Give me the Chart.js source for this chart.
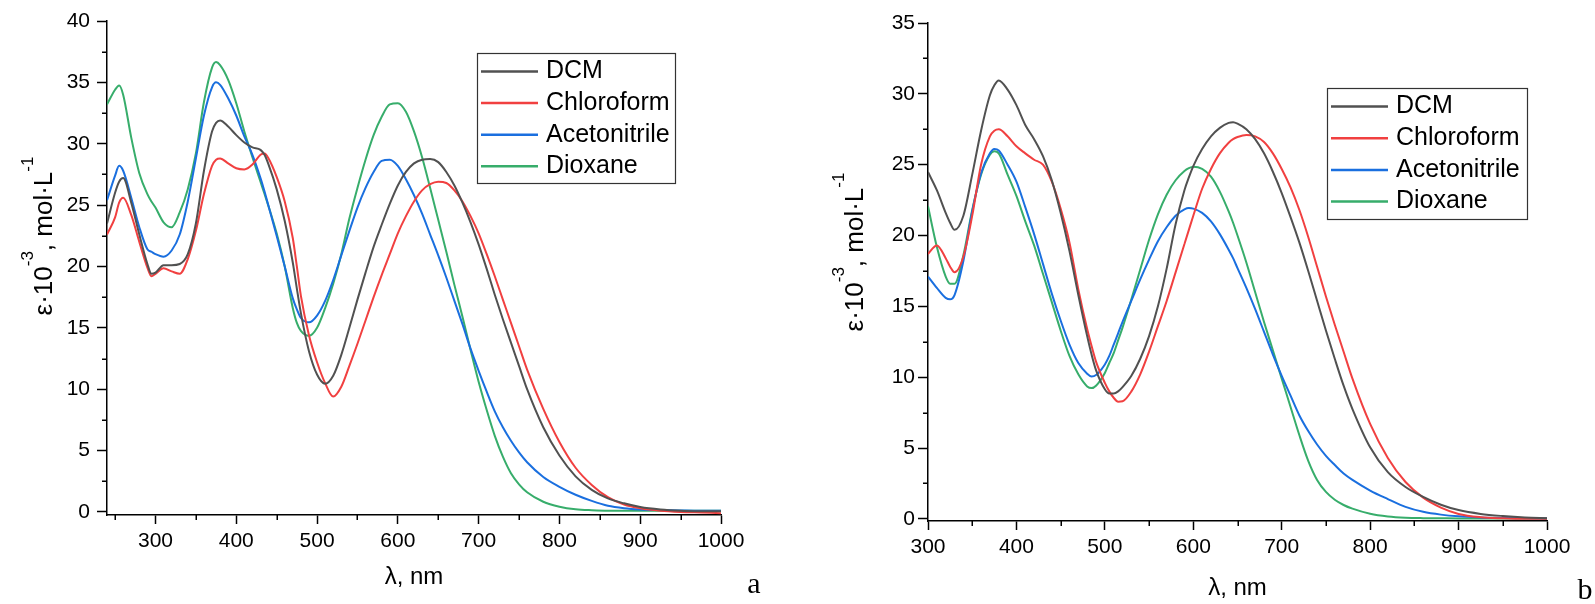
<!DOCTYPE html>
<html>
<head>
<meta charset="utf-8">
<script src="https://cdn.jsdelivr.net/npm/chart.js@4.4.0/dist/chart.umd.min.js"></script>
<style>
  html, body { margin: 0; padding: 0; background: #fff; }
  body { width: 1595px; height: 604px; position: relative; overflow: hidden; }
  canvas { position: absolute; top: 0; }
  #chartA { left: 0; }
  #chartB { left: 800px; }
</style>
</head>
<body>
<canvas id="chartA" width="800" height="604"></canvas>
<canvas id="chartB" width="795" height="604"></canvas>
<script>
// Solvents + Origin default colours
const solvents = ['DCM', 'Chloroform', 'Acetonitrile', 'Dioxane'];
const colors = ['#515151', '#F14040', '#1A6FDF', '#37AD6B'];

// ---- panel a : wavelength (nm) and eps*10^-3 ----
const lambdaA = [240, 250, 255, 260, 270, 280, 290, 295, 300, 310, 320, 330, 340, 350, 360, 370, 375, 380, 390, 400,
  410, 420, 430, 435, 440, 450, 460, 470, 475, 480, 490, 500, 510, 520, 530, 540, 550, 560, 570, 580,
  590, 600, 610, 620, 630, 640, 650, 660, 670, 680, 690, 700, 710, 720, 730, 740, 750, 760, 780, 800,
  820, 840, 860, 880, 900, 925, 950, 975, 1000];
const dcmA = [23.5, 26.0, 26.9, 27.2, 25.2, 22.6, 20.2, 19.4, 19.5, 20.1, 20.1, 20.2, 21.0, 23.5, 27.8, 31.0, 31.7, 31.9, 31.4, 30.7,
  30.1, 29.7, 29.5, 29.1, 28.3, 26.3, 23.7, 20.3, 18.2, 16.2, 13.1, 11.2, 10.45, 11.1, 12.8, 15.0, 17.3, 19.5, 21.6, 23.4,
  25.1, 26.6, 27.7, 28.4, 28.7, 28.75, 28.5, 27.7, 26.6, 25.2, 23.6, 21.8, 19.8, 17.7, 15.7, 13.8, 11.9, 10.0, 6.9, 4.6,
  2.9, 1.8, 1.1, 0.7, 0.4, 0.2, 0.1, 0.06, 0.05];
const chloroformA = [22.6, 24.0, 25.2, 25.6, 24.2, 22.0, 19.9, 19.2, 19.4, 19.85, 19.6, 19.4, 20.6, 22.9, 25.9, 28.2, 28.7, 28.8, 28.4, 28.0,
  27.9, 28.3, 29.1, 29.2, 28.8, 27.3, 25.3, 22.3, 20.0, 17.6, 14.4, 12.2, 10.5, 9.4, 10.2, 11.9, 13.7, 15.6, 17.5, 19.3,
  21.0, 22.7, 24.1, 25.3, 26.2, 26.7, 26.9, 26.8, 26.2, 25.3, 24.1, 22.7, 21.0, 19.2, 17.3, 15.4, 13.5, 11.6, 8.4, 5.7,
  3.6, 2.2, 1.2, 0.6, 0.3, 0.1, 0.0, -0.05, -0.1];
const acetonitrileA = [25.4, 27.4, 28.2, 27.8, 25.6, 23.2, 21.4, 21.2, 21.0, 20.8, 21.3, 22.6, 25.3, 28.8, 32.3, 34.6, 35.0, 34.8, 33.7, 32.3,
  30.6, 29.1, 27.2, 26.1, 24.9, 22.5, 20.0, 17.4, 16.5, 15.8, 15.45, 16.0, 17.2, 18.9, 20.9, 22.9, 24.8, 26.4, 27.7, 28.6,
  28.7, 28.2, 27.1, 25.8, 24.3, 22.6, 20.9, 19.1, 17.2, 15.3, 13.3, 11.5, 9.8, 8.2, 6.9, 5.8, 4.85, 4.05, 2.85, 2.05,
  1.4, 0.9, 0.5, 0.3, 0.2, 0.15, 0.12, 0.1, 0.1];
const dioxaneA = [33.2, 34.4, 34.75, 34.0, 30.5, 27.6, 25.9, 25.3, 24.8, 23.6, 23.2, 24.4, 26.3, 29.2, 33.4, 36.2, 36.65, 36.4, 35.2, 33.3,
  31.0, 28.9, 26.9, 25.9, 24.9, 22.7, 20.0, 16.6, 15.4, 14.75, 14.35, 15.0, 16.6, 18.6, 21.0, 23.9, 26.4, 28.7, 30.7, 32.2,
  33.2, 33.3, 32.6, 31.0, 28.9, 26.4, 23.8, 21.2, 18.5, 15.9, 13.2, 10.6, 8.3, 6.2, 4.5, 3.15, 2.25, 1.6, 0.83, 0.43,
  0.22, 0.14, 0.1, 0.1, 0.1, 0.1, 0.1, 0.1, 0.1];

// ---- panel b ----
const lambdaB = [300, 310, 320, 325, 330, 340, 350, 360, 370, 375, 380, 390, 400, 410, 420, 430, 440, 450, 460, 470,
  480, 485, 490, 500, 505, 510, 515, 520, 530, 540, 550, 560, 570, 580, 590, 595, 600, 610, 620, 630,
  640, 645, 650, 660, 670, 680, 690, 700, 710, 720, 730, 740, 750, 760, 770, 780, 800, 820, 840, 860,
  880, 900, 925, 950, 975, 1000];
const dcmB = [24.48, 23.2, 21.6, 20.9, 20.4, 21.4, 24.3, 27.4, 29.9, 30.6, 30.95, 30.3, 29.2, 27.8, 26.8, 25.6, 23.9, 21.6, 18.9, 15.8,
  12.9, 11.6, 10.5, 9.15, 8.85, 8.85, 9.0, 9.3, 10.1, 11.3, 12.9, 15.0, 17.7, 20.8, 23.2, 24.1, 24.9, 26.1, 27.0, 27.6,
  27.95, 28.0, 27.9, 27.5, 26.8, 25.8, 24.5, 23.0, 21.3, 19.5, 17.5, 15.4, 13.3, 11.3, 9.4, 7.75, 5.05, 3.3, 2.25, 1.55,
  1.0, 0.62, 0.35, 0.2, 0.1, 0.05];
const chloroformB = [18.7, 19.3, 18.4, 17.8, 17.4, 18.5, 21.4, 25.0, 27.0, 27.4, 27.5, 27.0, 26.3, 25.8, 25.35, 25.0, 23.8, 21.9, 19.5, 16.2,
  13.4, 12.2, 11.1, 9.6, 9.0, 8.55, 8.27, 8.3, 9.0, 10.2, 11.8, 13.6, 15.4, 17.4, 19.4, 20.4, 21.4, 23.3, 24.7, 25.8,
  26.55, 26.8, 26.95, 27.1, 27.0, 26.6, 25.8, 24.7, 23.4, 21.8, 19.9, 17.8, 15.7, 13.7, 11.8, 9.9, 6.7, 4.3, 2.6, 1.5,
  0.8, 0.35, 0.12, 0.04, 0.0, 0.0];
const acetonitrileB = [17.1, 16.3, 15.6, 15.5, 15.8, 18.2, 21.7, 24.4, 25.8, 26.1, 26.0, 25.0, 23.8, 22.0, 20.1, 18.0, 15.9, 14.0, 12.3, 11.0,
  10.25, 10.05, 10.15, 10.9, 11.5, 12.3, 13.1, 13.9, 15.4, 16.9, 18.3, 19.6, 20.6, 21.4, 21.85, 21.94, 21.9, 21.6, 21.0, 20.1,
  19.0, 18.4, 17.7, 16.3, 14.8, 13.2, 11.6, 10.1, 8.7, 7.3, 6.2, 5.25, 4.45, 3.8, 3.2, 2.75, 2.0, 1.4, 0.85, 0.5,
  0.3, 0.18, 0.1, 0.06, 0.04, 0.03];
const dioxaneB = [22.06, 19.2, 17.1, 16.6, 16.6, 18.6, 21.8, 24.3, 25.7, 25.94, 25.8, 24.3, 22.8, 21.0, 19.3, 17.3, 15.3, 13.3, 11.5, 10.2,
  9.35, 9.23, 9.4, 10.3, 11.0, 11.7, 12.6, 13.5, 15.5, 17.6, 19.7, 21.5, 22.9, 23.9, 24.55, 24.75, 24.85, 24.7, 24.15, 23.1,
  21.7, 20.9, 20.0, 18.1, 16.0, 13.9, 11.9, 9.9, 7.9, 5.9, 4.1, 2.75, 1.9, 1.35, 0.98, 0.72, 0.36, 0.17, 0.08, 0.05,
  0.04, 0.03, 0.03, 0.03, 0.03, 0.03];

const FONT = '"Liberation Sans", Arial, sans-serif';
Chart.defaults.font.family = FONT;
Chart.defaults.color = '#000';

// minor ticks, legend box, y title with superscripts, panel letter
const decor = {
  id: 'decor',
  afterDraw(chart, args, o) {
    const ctx = chart.ctx;
    const xs = chart.scales.x, ys = chart.scales.y;
    ctx.save();
    ctx.strokeStyle = '#000';
    ctx.lineWidth = 1.5;
    ctx.beginPath();
    for (let v = Math.ceil(xs.min / o.xMinor) * o.xMinor; v <= xs.max; v += o.xMinor) {
      if (v % (2 * o.xMinor) === 0) continue;
      const px = Math.round(xs.getPixelForValue(v)) + 0.25;
      ctx.moveTo(px, xs.top); ctx.lineTo(px, xs.top + 5);
    }
    for (let v = o.yMinor; v <= ys.max; v += o.yMinor) {
      if (v % (2 * o.yMinor) === 0) continue;
      const py = Math.round(ys.getPixelForValue(v)) + 0.25;
      ctx.moveTo(ys.right, py); ctx.lineTo(ys.right - 5, py);
    }
    ctx.stroke();

    // legend
    const lg = o.legend;
    ctx.strokeStyle = '#333';
    ctx.lineWidth = 1.2;
    ctx.strokeRect(lg.x, lg.y, lg.w, lg.h);
    ctx.font = '25px ' + FONT;
    ctx.textBaseline = 'middle';
    ctx.textAlign = 'left';
    chart.data.datasets.forEach((ds, i) => {
      const y = lg.y + 18 + i * lg.row;
      ctx.strokeStyle = ds.borderColor;
      ctx.lineWidth = 2.5;
      ctx.beginPath(); ctx.moveTo(lg.x + 3.5, y); ctx.lineTo(lg.x + 60.5, y); ctx.stroke();
      ctx.fillStyle = '#000';
      ctx.fillText(ds.label, lg.x + 68.5, y);
    });

    // y axis title  ε·10^-3, mol·L^-1
    const parts = [['ε·10', 0], ['-3', 1], [', mol·L', 0], ['-1', 1]];
    const fnt = s => s ? '17px ' + FONT : '26px ' + FONT;
    let total = 0;
    parts.forEach(p => { ctx.font = fnt(p[1]); total += ctx.measureText(p[0]).width; });
    ctx.save();
    ctx.translate(o.yTitle.x, o.yTitle.y);
    ctx.rotate(-Math.PI / 2);
    ctx.textBaseline = 'alphabetic';
    ctx.fillStyle = '#000';
    let pos = -total / 2;
    parts.forEach(p => {
      ctx.font = fnt(p[1]);
      ctx.fillText(p[0], pos, p[1] ? -19 : 0);
      pos += ctx.measureText(p[0]).width;
    });
    ctx.restore();

    // panel letter
    ctx.font = '30px "Liberation Serif", "Times New Roman", serif';
    ctx.textAlign = 'center';
    ctx.textBaseline = 'alphabetic';
    ctx.fillText(o.letter.text, o.letter.x, o.letter.y);
    ctx.restore();
  }
};

function makeChart(id, lambda, series, cfg) {
  return new Chart(document.getElementById(id), {
    type: 'line',
    data: {
      datasets: series.map((vals, i) => ({
        label: solvents[i],
        data: lambda.map((x, j) => ({ x: x, y: vals[j] })),
        borderColor: colors[i],
        borderWidth: 2,
        pointRadius: 0,
        fill: false,
        cubicInterpolationMode: 'monotone'
      }))
    },
    options: {
      responsive: false,
      animation: false,
      events: [],
      devicePixelRatio: 1,
      layout: { padding: { left: 0, top: cfg.top, right: cfg.right, bottom: 0 } },
      plugins: {
        legend: { display: false },
        tooltip: { enabled: false },
        decor: cfg.decor
      },
      scales: {
        x: {
          type: 'linear',
          min: cfg.xMin, max: 1000,
          border: { color: '#000', width: 1.5 },
          grid: { drawOnChartArea: false, tickLength: 9, tickWidth: 1.5, tickColor: '#000' },
          ticks: { stepSize: 100, includeBounds: false, autoSkip: false, maxRotation: 0, padding: cfg.xPad,
            font: { size: 21 }, callback: v => String(v) },
          title: { display: true, text: 'λ, nm', font: { size: 24 }, padding: { top: 0, bottom: cfg.titlePad } },
          afterFit: s => { s.height = cfg.xH; }
        },
        y: {
          min: cfg.yMin, max: cfg.yMax,
          border: { color: '#000', width: 1.5 },
          grid: { drawOnChartArea: false, tickLength: 10, tickWidth: 1.5, tickColor: '#000' },
          ticks: { stepSize: 5, includeBounds: false, autoSkip: false, padding: cfg.yPad,
            font: { size: 21 }, callback: v => String(v) },
          afterFit: s => { s.width = cfg.yW; }
        }
      }
    },
    plugins: [decor]
  });
}

makeChart('chartA', lambdaA, [dcmA, chloroformA, acetonitrileA, dioxaneA], {
  top: 21, right: 79, xMin: 240, yMin: -0.25, yMax: 40, xH: 89, yW: 107, xPad: 5, yPad: 7, titlePad: 12,
  decor: {
    xMinor: 50, yMinor: 2.5,
    legend: { x: 477.5, y: 53.5, w: 198, h: 130, row: 31.6 },
    yTitle: { x: 52, y: 236 },
    letter: { text: 'a', x: 754, y: 593 }
  }
});

makeChart('chartB', lambdaB, [dcmB, chloroformB, acetonitrileB, dioxaneB], {
  top: 23, right: 48, xMin: 300, yMin: -0.15, yMax: 35, xH: 83, yW: 128, xPad: 5, yPad: 3, titlePad: 1,
  decor: {
    xMinor: 50, yMinor: 2.5,
    legend: { x: 527.5, y: 88.5, w: 200, h: 131, row: 31.7 },
    yTitle: { x: 63, y: 252 },
    letter: { text: 'b', x: 785, y: 599 }
  }
});
</script>
</body>
</html>
